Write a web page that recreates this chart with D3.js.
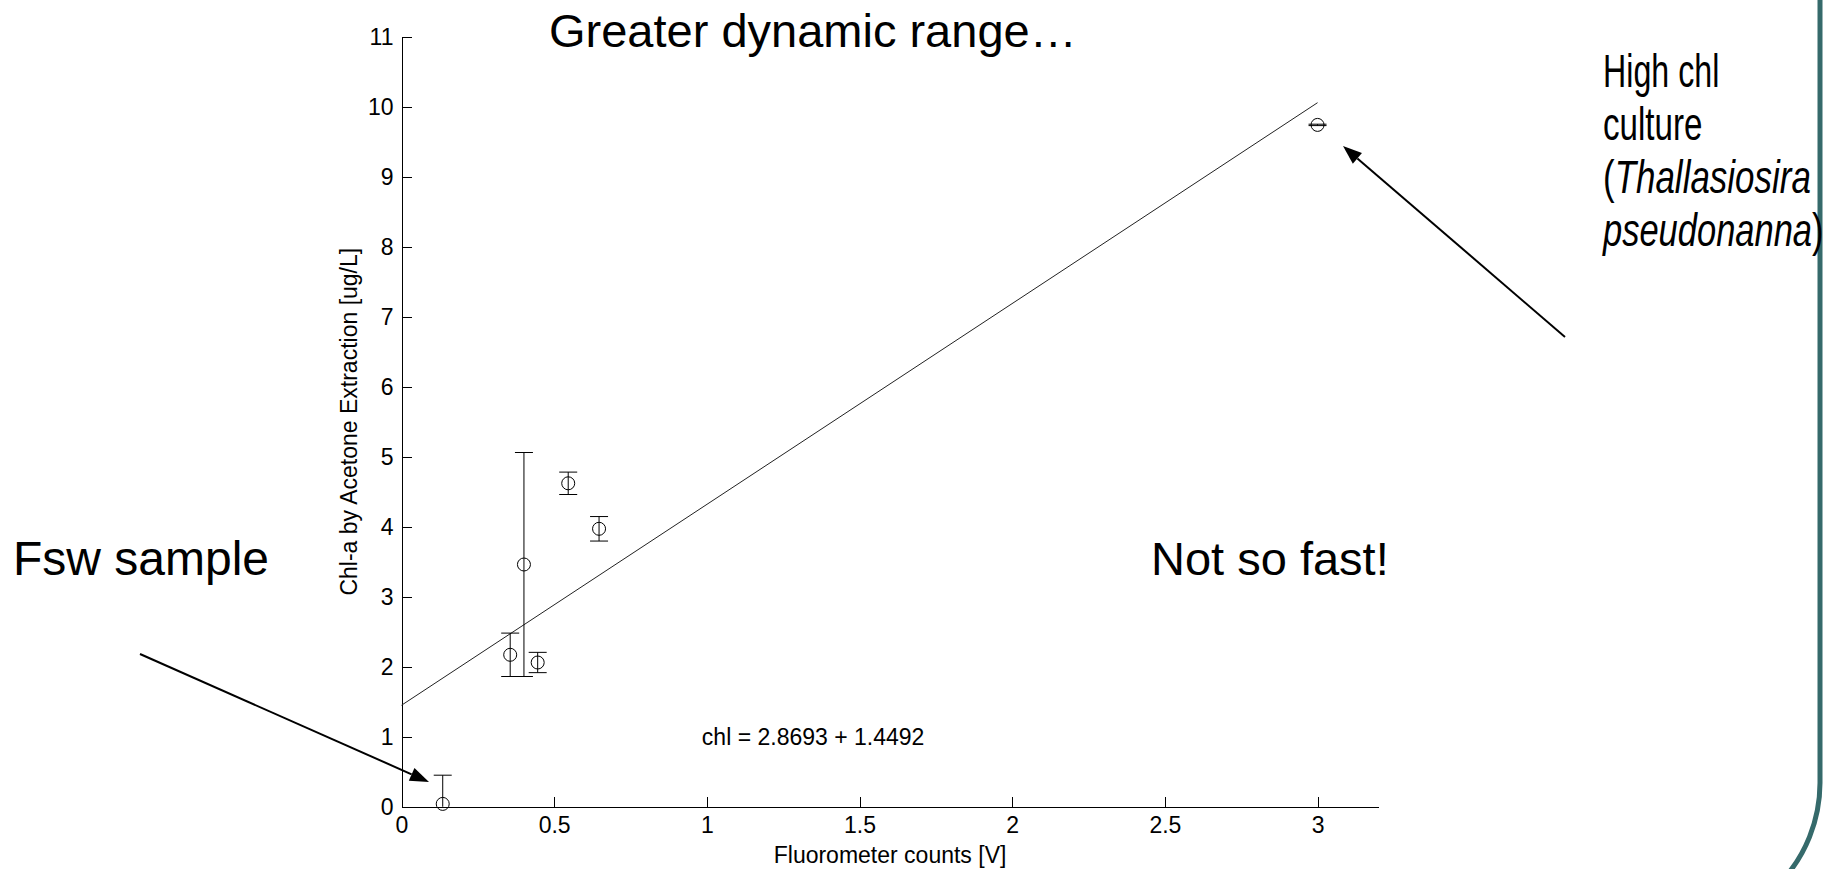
<!DOCTYPE html>
<html>
<head>
<meta charset="utf-8">
<script src="https://cdn.jsdelivr.net/npm/d3@7"></script>
<style>
  body { margin: 0; background: #fff; }
  svg { display: block; }
  .axis text { font-family: "Liberation Sans", Arial, sans-serif; font-size: 23px; fill: #000; }
  .axis path, .axis line { stroke: #000; stroke-width: 1; shape-rendering: crispEdges; }
  .big { font-family: "Liberation Sans", Arial, sans-serif; font-size: 47px; fill: #000; }
</style>
</head>
<body>
<svg id="chart" width="1831" height="869"></svg>
<script>
// samples: fluorometer reading, extracted chl-a, error bar half-length
var fluor = [0.135, 0.356, 0.401, 0.446, 0.546, 0.647, 3.0];
var chl = [0.04, 2.17, 3.46, 2.06, 4.62, 3.97, 9.74];
var chlErr = [0.41, 0.31, 1.60, 0.145, 0.16, 0.175, 0.01];

// linear fit chl = slope * V + intercept
var fitSlope = 2.8693;
var fitIntercept = 1.4492;
var fitRange = [0, 3.0];

var xTicks = [0, 0.5, 1, 1.5, 2, 2.5, 3];
var yTicks = [0, 1, 2, 3, 4, 5, 6, 7, 8, 9, 10, 11];

const svg = d3.select("#chart");

const x = d3.scaleLinear().domain([0, 3.2]).range([401.5, 1378.6]);
const y = d3.scaleLinear().domain([0, 11]).range([806.7, 36.7]);

svg.append("defs").append("clipPath")
    .attr("id", "plotclip")
    .append("rect")
    .attr("x", x.range()[0])
    .attr("y", y.range()[1])
    .attr("width", x.range()[1] - x.range()[0])
    .attr("height", y.range()[0] - y.range()[1]);

// slide frame on the right
svg.append("path")
    .attr("d", "M1820,-5 L1820,783 A146,146 0 0 1 1780,883")
    .attr("fill", "none")
    .attr("stroke", "#356a6b")
    .attr("stroke-width", 5);

// axes
svg.append("g")
    .attr("class", "axis")
    .attr("transform", "translate(0," + y(0) + ")")
    .call(d3.axisBottom(x).tickValues(xTicks).tickFormat(d3.format("")).tickSizeInner(-10).tickSizeOuter(0).tickPadding(10));

svg.append("g")
    .attr("class", "axis")
    .attr("transform", "translate(" + x(0) + ",0)")
    .call(d3.axisLeft(y).tickValues(yTicks).tickFormat(d3.format("d")).tickSizeInner(-10).tickSizeOuter(0).tickPadding(8));

// axis labels
svg.append("text")
    .attr("x", (x.range()[0] + x.range()[1]) / 2)
    .attr("y", 863)
    .attr("text-anchor", "middle")
    .attr("font-family", "Liberation Sans, Arial, sans-serif")
    .attr("font-size", 23)
    .text("Fluorometer counts [V]");

svg.append("text")
    .attr("transform", "translate(357," + (y(0) + y(11)) / 2 + ") rotate(-90)")
    .attr("text-anchor", "middle")
    .attr("font-family", "Liberation Sans, Arial, sans-serif")
    .attr("font-size", 23)
    .text("Chl-a by Acetone Extraction [ug/L]");

// fit line
svg.append("line")
    .attr("x1", x(fitRange[0]))
    .attr("y1", y(fitSlope * fitRange[0] + fitIntercept))
    .attr("x2", x(fitRange[1]))
    .attr("y2", y(fitSlope * fitRange[1] + fitIntercept))
    .attr("stroke", "#222")
    .attr("stroke-width", 1);

var pts = fluor.map(function(d, i) { return {v: d, c: chl[i], e: chlErr[i]}; });

var marks = svg.append("g")
    .attr("stroke", "#000")
    .attr("stroke-width", 1)
    .attr("fill", "none");

var eb = marks.append("g")
    .attr("clip-path", "url(#plotclip)")
    .selectAll("g")
    .data(pts)
    .enter().append("g");

eb.append("line")
    .attr("x1", function(d) { return x(d.v); })
    .attr("x2", function(d) { return x(d.v); })
    .attr("y1", function(d) { return y(d.c - d.e); })
    .attr("y2", function(d) { return y(d.c + d.e); });

[-1, 1].forEach(function(s) {
    eb.append("line")
        .attr("x1", function(d) { return x(d.v) - 9; })
        .attr("x2", function(d) { return x(d.v) + 9; })
        .attr("y1", function(d) { return y(d.c + s * d.e); })
        .attr("y2", function(d) { return y(d.c + s * d.e); });
});

marks.selectAll("circle")
    .data(pts)
    .enter().append("circle")
    .attr("cx", function(d) { return x(d.v); })
    .attr("cy", function(d) { return y(d.c); })
    .attr("r", 6.5);

// fit equation
svg.append("text")
    .attr("x", x(1) - 5)
    .attr("y", y(1))
    .attr("dy", "0.35em")
    .attr("font-family", "Liberation Sans, Arial, sans-serif")
    .attr("font-size", 23)
    .text("chl = " + fitSlope.toFixed(4) + " + " + fitIntercept.toFixed(4));

// slide annotations
svg.append("text").attr("class", "big").attr("x", 549).attr("y", 47).text("Greater dynamic range\u2026");
svg.append("text").attr("class", "big").style("font-size", "48px").attr("x", 13).attr("y", 575).text("Fsw sample");
svg.append("text").attr("class", "big").attr("x", 1151).attr("y", 575).text("Not so fast!");

// squeezed text box next to the frame, one line at a time
var sideLines = [
    {y: 87, sx: 0.70, parts: [["High chl", false]]},
    {y: 140, sx: 0.72, parts: [["culture", false]]},
    {y: 193, sx: 0.76, parts: [["(", false], ["Thallasiosira", true]]},
    {y: 246, sx: 0.75, parts: [["pseudonanna", true], [")", false]]}
];

sideLines.forEach(function(l) {
    var t = svg.append("g")
        .attr("transform", "translate(1603," + l.y + ") scale(" + l.sx + ",1)")
        .append("text")
        .attr("class", "big")
        .style("font-size", "46px");
    l.parts.forEach(function(p) {
        t.append("tspan").attr("font-style", p[1] ? "italic" : "normal").text(p[0]);
    });
});

// arrows
var arrows = [
    {from: [140, 654], to: [429, 782]},
    {from: [1565, 337], to: [1343, 146]}
];

arrows.forEach(function(a) {
    var dx = a.to[0] - a.from[0], dy = a.to[1] - a.from[1];
    var len = Math.sqrt(dx * dx + dy * dy);
    var ux = dx / len, uy = dy / len;
    var hl = 19, hw = 7;
    var bx = a.to[0] - ux * hl, by = a.to[1] - uy * hl;
    svg.append("line")
        .attr("x1", a.from[0]).attr("y1", a.from[1])
        .attr("x2", bx).attr("y2", by)
        .attr("stroke", "#000").attr("stroke-width", 2);
    svg.append("path")
        .attr("d", "M" + a.to[0] + "," + a.to[1] +
            "L" + (bx - uy * hw) + "," + (by + ux * hw) +
            "L" + (bx + uy * hw) + "," + (by - ux * hw) + "Z")
        .attr("fill", "#000");
});
</script>
</body>
</html>
